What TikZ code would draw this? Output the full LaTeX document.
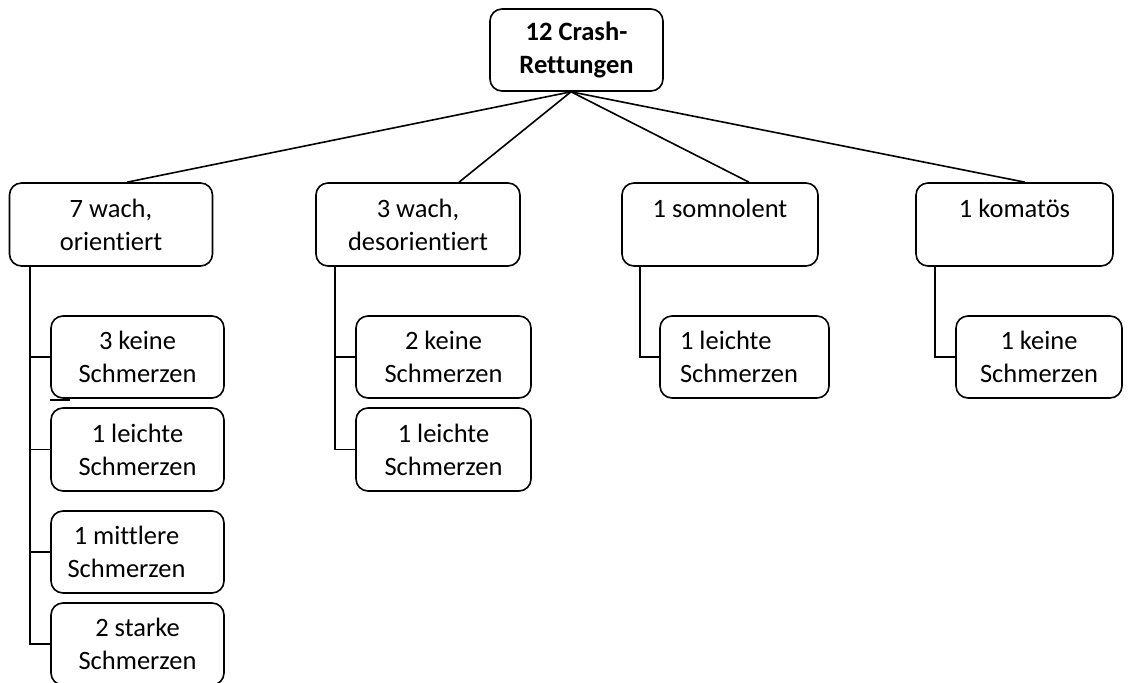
\documentclass[tikz,border=0pt]{standalone}
\usepackage{fontspec}
\setmainfont{Carlito}[Ligatures={NoCommon,NoContextual}]
\usetikzlibrary{calc}
\begin{document}
\begin{tikzpicture}[x=1pt,y=-1pt,line width=1.6pt,
  box/.style={draw,rounded corners=12pt,align=center,inner sep=0pt,
    font=\fontsize{26.5}{33}\selectfont},
  topbox/.style={box,minimum width=173pt,minimum height=82pt,font=\fontsize{26.5}{33}\selectfont\bfseries},
  lvone/.style={box,minimum height=83pt},
  leaf/.style={box,minimum height=82pt},
  conn/.style={draw}]
\useasboundingbox (0,0) rectangle (1142,682);
\clip (0,0) rectangle (1142,682);
\fill[white] (0,0) rectangle (1142,682);

\node[topbox] (root) at (576.5,50) {12 Crash-\\Rettungen};

\node[lvone,minimum width=203pt] (A) at (111,224.5) {7 wach,\\orientiert};
\node[lvone,minimum width=204pt] (B) at (418,224.5) {3 wach,\\desorientiert};
\node[lvone,minimum width=196pt] (C) at (720,224.5) {1 somnolent\\\mbox{}};
\node[lvone,minimum width=197pt] (D) at (1014.5,224.5) {1 komatös\\\mbox{}};

\node[leaf,minimum width=173pt] (A1) at (137.5,357) {3 keine\\Schmerzen};
\node[leaf,minimum width=173pt,minimum height=83pt] (A2) at (137.5,449.5) {1 leichte\\Schmerzen};
\node[leaf,minimum width=173pt] (A3) at (137.5,552) {1 mittlere\hspace*{22pt}\\Schmerzen\hspace*{22pt}};
\node[leaf,minimum width=173pt] (A4) at (137.5,644) {2 starke\\Schmerzen};

\node[leaf,minimum width=175pt] (B1) at (443.5,357) {2 keine\\Schmerzen};
\node[leaf,minimum width=175pt,minimum height=83pt] (B2) at (443.5,449.5) {1 leichte\\Schmerzen};

\node[leaf,minimum width=169pt,align=left] (C1) at (744.5,357) {1 leichte\\Schmerzen\hspace*{11pt}};
\node[leaf,minimum width=166pt] (D1) at (1039,357) {1 keine\\Schmerzen};

% connectors from root
\draw[conn] ([xshift=-5.5pt]root.south) -- ([xshift=16pt]A.north);
\draw[conn] ([xshift=-5.5pt]root.south) -- ([xshift=41pt]B.north);
\draw[conn] ([xshift=-5.5pt]root.south) -- ([xshift=29pt]C.north);
\draw[conn] ([xshift=-5.5pt]root.south) -- ([xshift=10.5pt]D.north);

% tree connectors
\draw[conn] ([xshift=21.5pt]A.south west) |- (A1.west);
\draw[conn] ([xshift=21.5pt]A.south west) |- (A2.west);
\draw[conn] ([xshift=21.5pt]A.south west) |- (A3.west);
\draw[conn] ([xshift=21.5pt]A.south west) |- (A4.west);

\draw[conn] ([xshift=20pt]B.south west) |- (B1.west);
\draw[conn] ([xshift=20pt]B.south west) |- (B2.west);

\draw[conn] ([xshift=19pt]C.south west) |- (C1.west);
\draw[conn] ([xshift=20pt]D.south west) |- (D1.west);

% small stray stroke under the first leaf
\draw[conn] ([yshift=-1pt]A1.south west) -- ++(20,0);
\end{tikzpicture}
\end{document}
